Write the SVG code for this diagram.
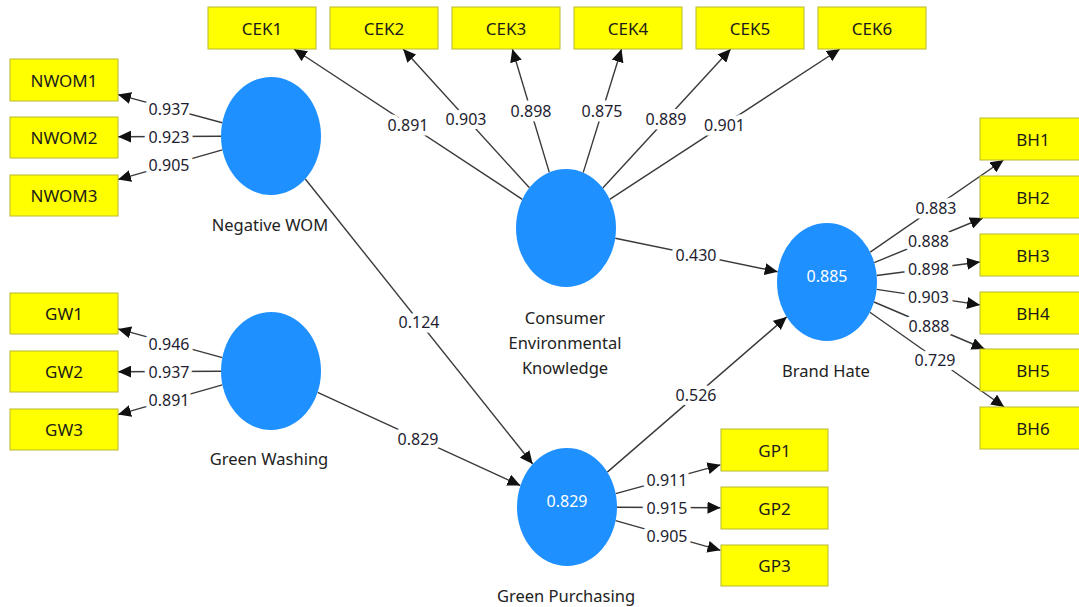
<svg xmlns="http://www.w3.org/2000/svg" width="1079" height="607" viewBox="0 0 1079 607">
<style>
.bg{fill:#fff}
.box{fill:#ffff00;stroke:#b8b830;stroke-width:1}
.bt{font-family:"Noto Sans","Open Sans",sans-serif;font-size:17px;fill:#1c1c1c;text-anchor:middle}
.lv{fill:#1e90ff}
.nl{font-family:"Noto Sans","Open Sans",sans-serif;font-size:16.5px;fill:#222;text-anchor:middle}
.iv{font-family:"Noto Sans","Open Sans",sans-serif;font-size:16px;fill:#fff;text-anchor:middle}
.ln{stroke:#3a3a3a;stroke-width:1.4;fill:none;marker-end:url(#ah)}
.lb{font-family:"Noto Sans","Open Sans",sans-serif;font-size:16px;fill:#1e1e30;text-anchor:middle;stroke:#fff;stroke-width:9;stroke-linejoin:round;paint-order:stroke}
</style>
<defs>
<marker id="ah" markerUnits="userSpaceOnUse" markerWidth="13" markerHeight="12" refX="13" refY="6" orient="auto" viewBox="0 0 13 12">
<path d="M0,0 L13,6 L0,12 z" fill="#111"/>
</marker>
</defs>
<rect class="bg" x="0" y="0" width="1079" height="607"/>

<g id="connectors">
<line class="ln" x1="222.3" y1="122.8" x2="118" y2="94.6"/>
<line class="ln" x1="221" y1="136.2" x2="118" y2="136.7"/>
<line class="ln" x1="222.4" y1="149.9" x2="118" y2="179.6"/>
<line class="ln" x1="222.3" y1="357.6" x2="118" y2="328.9"/>
<line class="ln" x1="221" y1="371.2" x2="118" y2="371.7"/>
<line class="ln" x1="222.4" y1="384.9" x2="118" y2="414.6"/>
<line class="ln" x1="522.3" y1="199.3" x2="293.9" y2="49"/>
<line class="ln" x1="529.4" y1="187.8" x2="403.1" y2="49"/>
<line class="ln" x1="549.3" y1="172.4" x2="512.3" y2="49"/>
<line class="ln" x1="583.2" y1="172.6" x2="621.5" y2="49"/>
<line class="ln" x1="602.8" y1="188" x2="730.7" y2="49"/>
<line class="ln" x1="609.7" y1="199.4" x2="839.9" y2="49"/>
<line class="ln" x1="870.2" y1="252.2" x2="1003.6" y2="160"/>
<line class="ln" x1="874.2" y1="262.6" x2="982.9" y2="218"/>
<line class="ln" x1="876.7" y1="275.5" x2="980" y2="262"/>
<line class="ln" x1="876.6" y1="289.4" x2="980" y2="304.9"/>
<line class="ln" x1="874" y1="302" x2="984.6" y2="349"/>
<line class="ln" x1="869.9" y1="312.3" x2="1004.2" y2="407"/>
<line class="ln" x1="615.7" y1="493.6" x2="720.5" y2="464.8"/>
<line class="ln" x1="617" y1="507.2" x2="720.5" y2="507.7"/>
<line class="ln" x1="615.6" y1="520.7" x2="720.5" y2="550.3"/>
<line class="ln" x1="305.3" y1="179" x2="532.7" y2="464"/>
<line class="ln" x1="317.6" y1="392.4" x2="520.4" y2="485.6"/>
<line class="ln" x1="615.3" y1="238.2" x2="777.7" y2="271.8"/>
<line class="ln" x1="607.3" y1="472.1" x2="786.7" y2="316.9"/>
<text class="lb" x="169" y="115">0.937</text>
<text class="lb" x="169" y="142.5">0.923</text>
<text class="lb" x="169" y="171">0.905</text>
<text class="lb" x="169" y="349.5">0.946</text>
<text class="lb" x="169" y="377.5">0.937</text>
<text class="lb" x="169" y="406">0.891</text>
<text class="lb" x="408" y="130.5">0.891</text>
<text class="lb" x="466" y="124.5">0.903</text>
<text class="lb" x="531" y="117">0.898</text>
<text class="lb" x="602" y="117">0.875</text>
<text class="lb" x="666" y="124.5">0.889</text>
<text class="lb" x="724.5" y="130.5">0.901</text>
<text class="lb" x="936" y="213.5">0.883</text>
<text class="lb" x="928.5" y="246.5">0.888</text>
<text class="lb" x="928.5" y="275">0.898</text>
<text class="lb" x="928.5" y="303">0.903</text>
<text class="lb" x="929" y="331.5">0.888</text>
<text class="lb" x="935" y="366">0.729</text>
<text class="lb" x="667" y="485.5">0.911</text>
<text class="lb" x="667" y="513.5">0.915</text>
<text class="lb" x="667" y="541.5">0.905</text>
<text class="lb" x="419" y="327.5">0.124</text>
<text class="lb" x="418" y="445">0.829</text>
<text class="lb" x="696" y="261">0.430</text>
<text class="lb" x="696" y="400.5">0.526</text>
</g>

<g id="nwom">
<ellipse class="lv" cx="271" cy="136" rx="50" ry="59"/>
<text class="nl" x="270" y="231">Negative WOM</text>
</g>
<g id="gw">
<ellipse class="lv" cx="271" cy="371" rx="50" ry="59"/>
<text class="nl" x="269" y="465">Green Washing</text>
</g>
<g id="cek">
<ellipse class="lv" cx="566" cy="228" rx="50" ry="59"/>
<text class="nl" x="565" y="324">Consumer</text>
<text class="nl" x="565" y="349">Environmental</text>
<text class="nl" x="565" y="374">Knowledge</text>
</g>
<g id="bh">
<ellipse class="lv" cx="827" cy="282" rx="50" ry="59"/>
<text class="iv" x="827" y="282">0.885</text>
<text class="nl" x="826" y="377">Brand Hate</text>
</g>
<g id="gp">
<ellipse class="lv" cx="567" cy="507" rx="50" ry="59"/>
<text class="iv" x="567" y="507">0.829</text>
<text class="nl" x="566" y="602">Green Purchasing</text>
</g>

<g id="NWOM1"><rect class="box" x="10" y="59" width="108" height="42"/><text class="bt" x="64" y="86.5">NWOM1</text></g>
<g id="NWOM2"><rect class="box" x="10" y="117" width="108" height="41"/><text class="bt" x="64" y="143.5">NWOM2</text></g>
<g id="NWOM3"><rect class="box" x="10" y="175" width="108" height="41"/><text class="bt" x="64" y="201.5">NWOM3</text></g>
<g id="GW1"><rect class="box" x="10" y="293" width="108" height="41"/><text class="bt" x="64" y="320">GW1</text></g>
<g id="GW2"><rect class="box" x="10" y="351" width="108" height="41"/><text class="bt" x="64" y="378">GW2</text></g>
<g id="GW3"><rect class="box" x="10" y="409" width="108" height="41"/><text class="bt" x="64" y="436">GW3</text></g>
<g id="CEK1"><rect class="box" x="208" y="7" width="108" height="42"/><text class="bt" x="262" y="34.5">CEK1</text></g>
<g id="CEK2"><rect class="box" x="330" y="7" width="108" height="42"/><text class="bt" x="384" y="34.5">CEK2</text></g>
<g id="CEK3"><rect class="box" x="452" y="7" width="108" height="42"/><text class="bt" x="506" y="34.5">CEK3</text></g>
<g id="CEK4"><rect class="box" x="574" y="7" width="108" height="42"/><text class="bt" x="628" y="34.5">CEK4</text></g>
<g id="CEK5"><rect class="box" x="696" y="7" width="108" height="42"/><text class="bt" x="750" y="34.5">CEK5</text></g>
<g id="CEK6"><rect class="box" x="818" y="7" width="108" height="42"/><text class="bt" x="872" y="34.5">CEK6</text></g>
<g id="BH1"><rect class="box" x="980" y="118" width="108" height="42"/><text class="bt" x="1033" y="145.5">BH1</text></g>
<g id="BH2"><rect class="box" x="980" y="176" width="108" height="42"/><text class="bt" x="1033" y="203.5">BH2</text></g>
<g id="BH3"><rect class="box" x="980" y="234" width="108" height="42"/><text class="bt" x="1033" y="261.5">BH3</text></g>
<g id="BH4"><rect class="box" x="980" y="292" width="108" height="42"/><text class="bt" x="1033" y="319.5">BH4</text></g>
<g id="BH5"><rect class="box" x="980" y="349" width="108" height="42"/><text class="bt" x="1033" y="376.5">BH5</text></g>
<g id="BH6"><rect class="box" x="980" y="407" width="108" height="42"/><text class="bt" x="1033" y="434.5">BH6</text></g>
<g id="GP1"><rect class="box" x="721" y="429" width="107" height="42"/><text class="bt" x="774.5" y="456.5">GP1</text></g>
<g id="GP2"><rect class="box" x="721" y="487" width="107" height="42"/><text class="bt" x="774.5" y="514.5">GP2</text></g>
<g id="GP3"><rect class="box" x="721" y="545" width="107" height="41"/><text class="bt" x="774.5" y="572">GP3</text></g>
</svg>
